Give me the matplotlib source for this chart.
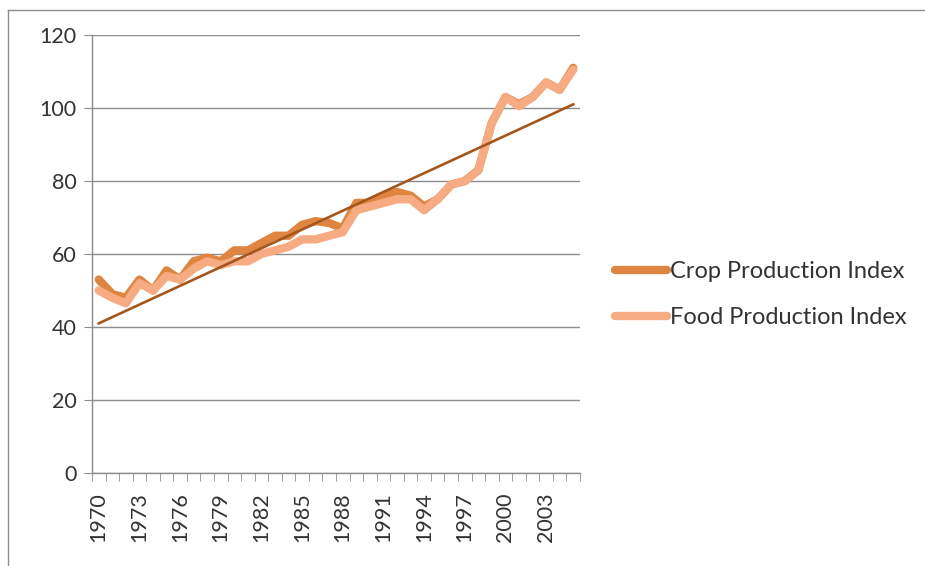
import matplotlib
matplotlib.use("Agg")
import matplotlib.pyplot as plt
import numpy as np
from matplotlib.lines import Line2D

years = list(range(1970, 2006))
crop_index = [53, 49, 48, 53, 50, 55.5, 53, 58, 59, 58, 61, 61, 63, 65, 65, 68, 69, 68.5,
              67, 74, 74, 76, 77, 76, 73, 75, 79, 80, 83, 96, 103, 101, 103, 107, 105, 111]
food_index = [50, 48, 46.5, 52, 50, 54, 53, 56, 58, 57, 58, 58, 60, 61, 62, 64, 64, 65,
              66, 72, 73, 74, 75, 75, 72, 75, 79, 80, 83, 96, 103, 100.5, 103, 107, 105, 110.5]
# linear trend line, value at the first and last year
trend_ends = [41, 101]
y_ticks = [0, 20, 40, 60, 80, 100, 120]

plt.rcParams['font.family'] = ['Lato', 'DejaVu Sans']

fig = plt.figure(figsize=(9.25, 5.66), dpi=100)
ax = fig.add_axes([92/925, 1 - 473/566, (580 - 92)/925, (473 - 35)/566])

x = np.arange(len(years))
crop_col = "#DE8641"
food_col = "#F6AB82"
trend_col = "#A4561C"

ax.plot(x, crop_index, color=crop_col, lw=6, solid_joinstyle='round', solid_capstyle='round', zorder=3)
ax.plot(x, food_index, color=food_col, lw=6, solid_joinstyle='round', solid_capstyle='round', zorder=4)
ax.plot([x[0], x[-1]], trend_ends, color=trend_col, lw=1.9, zorder=5)

ax.set_xlim(-0.5, len(years) - 0.5)
ax.set_ylim(0, 120)
ax.set_yticks(y_ticks)
ax.set_yticklabels([str(v) for v in y_ticks], fontsize=15.5, color="#333333")
ax.set_xticks(x[::3])
ax.set_xticklabels([str(y) for y in years[::3]], rotation=90, fontsize=15.5, color="#333333")
ax.tick_params(axis='x', length=0, pad=14)
ax.tick_params(axis='y', length=6, color="#8c8c8c", pad=5)
# category boundary ticks along the x axis
ax.set_xticks(np.arange(-0.5, len(years)), minor=True)
ax.tick_params(axis='x', which='minor', length=6, color="#8c8c8c")

ax.grid(axis='y', color="#8c8c8c", lw=1.0)
ax.set_axisbelow(True)
for side in ['top', 'right']:
    ax.spines[side].set_visible(False)
for side in ['left', 'bottom']:
    ax.spines[side].set_color("#8c8c8c")
    ax.spines[side].set_linewidth(1.0)

handles = [Line2D([], [], color=crop_col, lw=6, solid_capstyle='round'),
           Line2D([], [], color=food_col, lw=6, solid_capstyle='round')]
fig.legend(handles, ["Crop Production Index", "Food Production Index"],
           loc='upper left', bbox_to_anchor=(594/925, 1 - 240/566), frameon=False,
           fontsize=17, handlelength=2.2, handletextpad=0.1, labelspacing=1.05,
           labelcolor="#333333")

# outer chart border
fig.add_artist(Line2D([8/925, 8/925], [0, 1 - 10/566], transform=fig.transFigure, color="#8c8c8c", lw=1.0))
fig.add_artist(Line2D([8/925, 1], [1 - 10/566, 1 - 10/566], transform=fig.transFigure, color="#8c8c8c", lw=1.0))

fig.savefig("out.png", dpi=100)
